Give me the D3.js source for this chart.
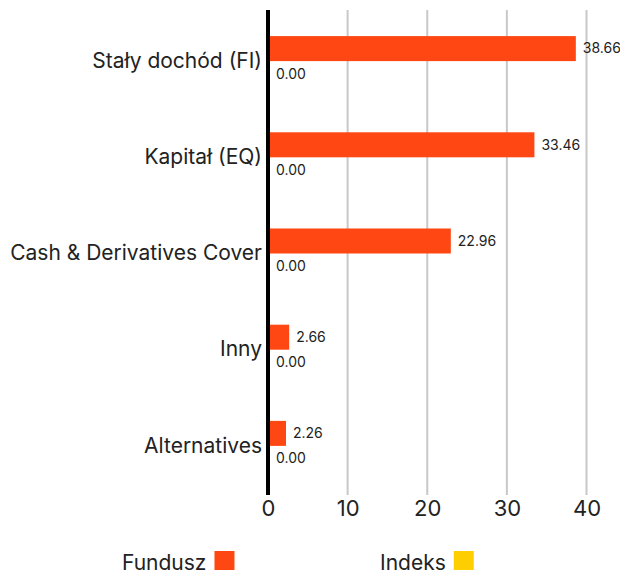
<!DOCTYPE html>
<html><head><meta charset="utf-8">
<script src="https://cdn.jsdelivr.net/npm/d3@7"></script>
<style>body{margin:0;background:#fff}svg{display:block}text{font-family:Inter,"Open Sans",sans-serif;fill:#222}</style>
</head><body><svg id="c" width="620" height="574"></svg>
<script>
const categories = ["Stały dochód (FI)", "Kapitał (EQ)", "Cash & Derivatives Cover", "Inny", "Alternatives"];
const seriesNames = ["Fundusz", "Indeks"];
const fundValues = [38.66, 33.46, 22.96, 2.66, 2.26];
const indexValues = [0.00, 0.00, 0.00, 0.00, 0.00];
const tickValues = [0, 10, 20, 30, 40];
const colors = ["#FF4713", "#FFCE00"];

(function () {
const svg = d3.select("#c");
const x = d3.scaleLinear().domain([0, 40]).range([268, 586.5]);
const y = d3.scaleBand().domain(categories).range([13, 494]).paddingInner(0.48).paddingOuter(0.24);
const ySub = d3.scaleBand().domain(seriesNames).range([0, y.bandwidth()]);
const yTop = 10, yBottom = 495;

svg.append("g").selectAll("line").data(tickValues.filter(d => d > 0)).join("line")
  .attr("x1", d => x(d)).attr("x2", d => x(d)).attr("y1", yTop).attr("y2", yBottom)
  .attr("stroke", "#c8c8c8").attr("stroke-width", 2);

const xAxis = d3.axisBottom(x).tickValues(tickValues).tickSize(0).tickPadding(0).tickFormat(d3.format("d"));
const gx = svg.append("g").attr("transform", `translate(0,${yBottom})`).call(xAxis);
gx.select(".domain").remove();
gx.selectAll("text").attr("font-size", 22).attr("dy", "0.71em").attr("y", 5)
  .style("font-family", "Inter, sans-serif").attr("fill", "#222");

const yAxis = d3.axisLeft(y).tickSize(0).tickPadding(0);
const gy = svg.append("g").attr("transform", `translate(262,0)`).call(yAxis);
gy.select(".domain").remove();
gy.selectAll("text").attr("font-size", 21).style("font-family", "Inter, sans-serif").attr("fill", "#222");

const rows = categories.map((c, i) => ({c, vals: [fundValues[i], indexValues[i]]}));
const g = svg.append("g");
rows.forEach(r => {
  r.vals.forEach((v, j) => {
    const yy = y(r.c) + ySub(seriesNames[j]);
    g.append("rect").attr("x", x(0)).attr("y", yy)
      .attr("width", x(v) - x(0)).attr("height", ySub.bandwidth()).attr("fill", colors[j]);
    g.append("text").attr("x", x(v) + (v > 0 ? 7 : 8)).attr("y", yy + ySub.bandwidth() / 2)
      .attr("dy", "0.35em").attr("font-size", 14).text(v.toFixed(2));
  });
});

svg.append("line").attr("x1", x(0)).attr("x2", x(0)).attr("y1", yTop).attr("y2", yBottom)
  .attr("stroke", "#000").attr("stroke-width", 4);

const legX = [122, 380];
seriesNames.forEach((s, i) => {
  const t = svg.append("text").attr("x", legX[i]).attr("y", 570).attr("font-size", 21).text(s);
  const w = t.node().getComputedTextLength();
  svg.append("rect").attr("x", legX[i] + w + 8).attr("y", 551).attr("width", 20).attr("height", 19).attr("fill", colors[i]);
});
})();
</script></body></html>
